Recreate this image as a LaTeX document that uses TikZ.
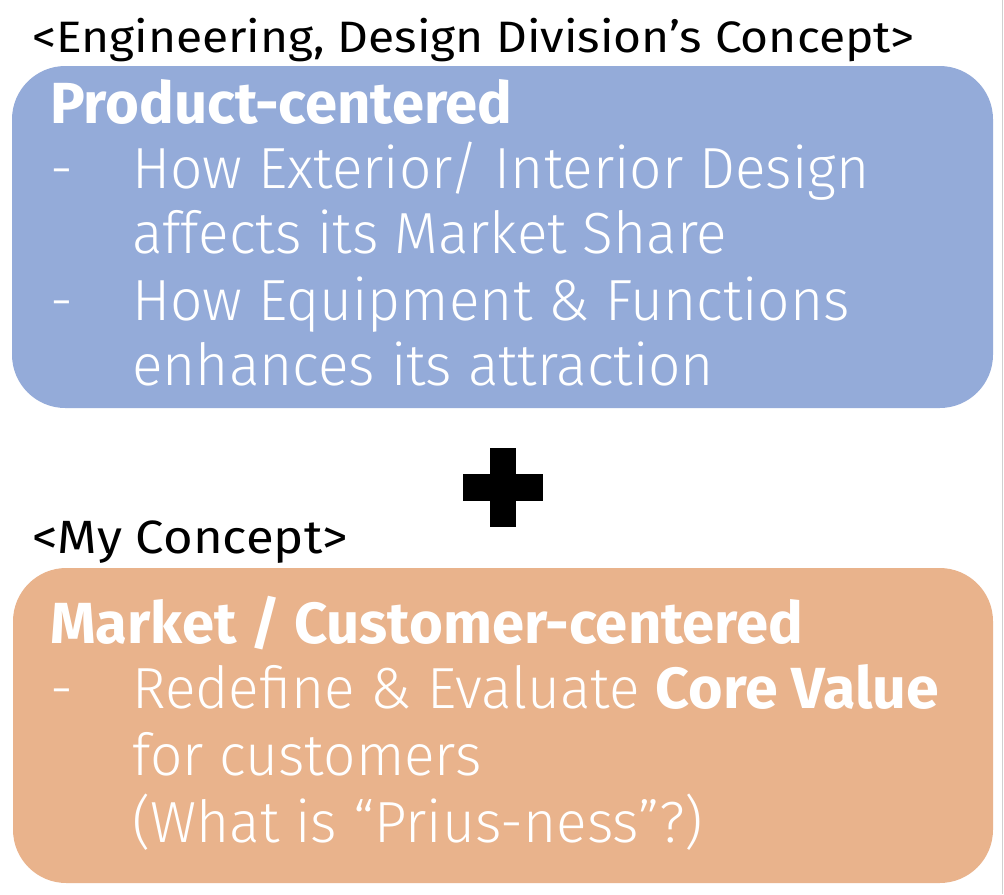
\documentclass[tikz,border=0pt]{standalone}
\usepackage{fontspec}
\setmainfont{Fira Sans}
\newfontfamily\captionfont{Fira Sans}[FakeStretch=1.09]
\newfontfamily\bodyfont{Fira Sans}[UprightFont=* Light, BoldFont=* Bold,
  UprightFeatures={FakeStretch=0.98}, BoldFeatures={FakeStretch=1.02}]
\newfontfamily\titlefont{Fira Sans Bold}
\definecolor{prodblue}{HTML}{94ABD9}
\definecolor{mktorange}{HTML}{E9B38C}
\definecolor{edgegray}{HTML}{D0D0D0}
\begin{document}
\begin{tikzpicture}[x=0.75pt,y=-0.75pt,
  panel/.style={fill=#1, draw=none, rounded corners=40pt, inner sep=0pt},
  caption/.style={anchor=base west, inner sep=0pt, text=black,
    font=\captionfont\fontsize{#1}{40pt}\selectfont},
  caption/.default=33pt,
  heading/.style={anchor=base west, inner sep=0pt, text=white,
    font=\titlefont\fontsize{43.5pt}{52pt}\selectfont},
  bodyline/.style={anchor=base west, inner sep=0pt, text=white,
    font=\bodyfont\fontsize{43.5pt}{52pt}\selectfont}]
\useasboundingbox (0,0) rectangle (1004,894);
\fill[white] (0,0) rectangle (1004,894);
\draw[edgegray, line width=0.75pt] (1002.5,0) -- (1002.5,894);

% the two concept panels
\node[panel=prodblue, minimum width=735.75pt, minimum height=256.5pt] (product) at (502.5,237) {};
\node[panel=mktorange, minimum width=735pt, minimum height=236.25pt] (market) at (503,725.5) {};

% captions above the panels
\node[caption] (capEng) at (32,52) {<Engineering, Design Division’s Concept>};
\node[caption=35pt] (capMy) at (32,553) {<My Concept>};

% product-centered panel text
\node[heading] (prodTitle) at (50,123) {Product-centered};
\node[bodyline] (prodDashA) at (50,188) {-};
\node[bodyline] (prodA1) at (132,188) {How Exterior/ Interior Design};
\node[bodyline] (prodA2) at (132,253.5) {affects its Market Share};
\node[bodyline] (prodDashB) at (50,320) {-};
\node[bodyline] (prodB1) at (132,320) {How Equipment \& Functions};
\node[bodyline] (prodB2) at (132,385) {enhances its attraction};

% market-centered panel text
\node[heading] (mktTitle) at (50,643) {Market / Customer-centered};
\node[bodyline] (mktDash) at (50,708) {-};
\node[bodyline] (mkt1) at (132,708) {Redefine \& Evaluate \textbf{Core Value}};
\node[bodyline] (mkt2) at (132,775) {for customers};
\node[bodyline] (mkt3) at (132,842) {(What is “Prius-ness”?)};

% plus sign between the panels
\fill[black] (490,448) rectangle (516,527);
\fill[black] (463,474) rectangle (543,501);
\end{tikzpicture}
\end{document}
